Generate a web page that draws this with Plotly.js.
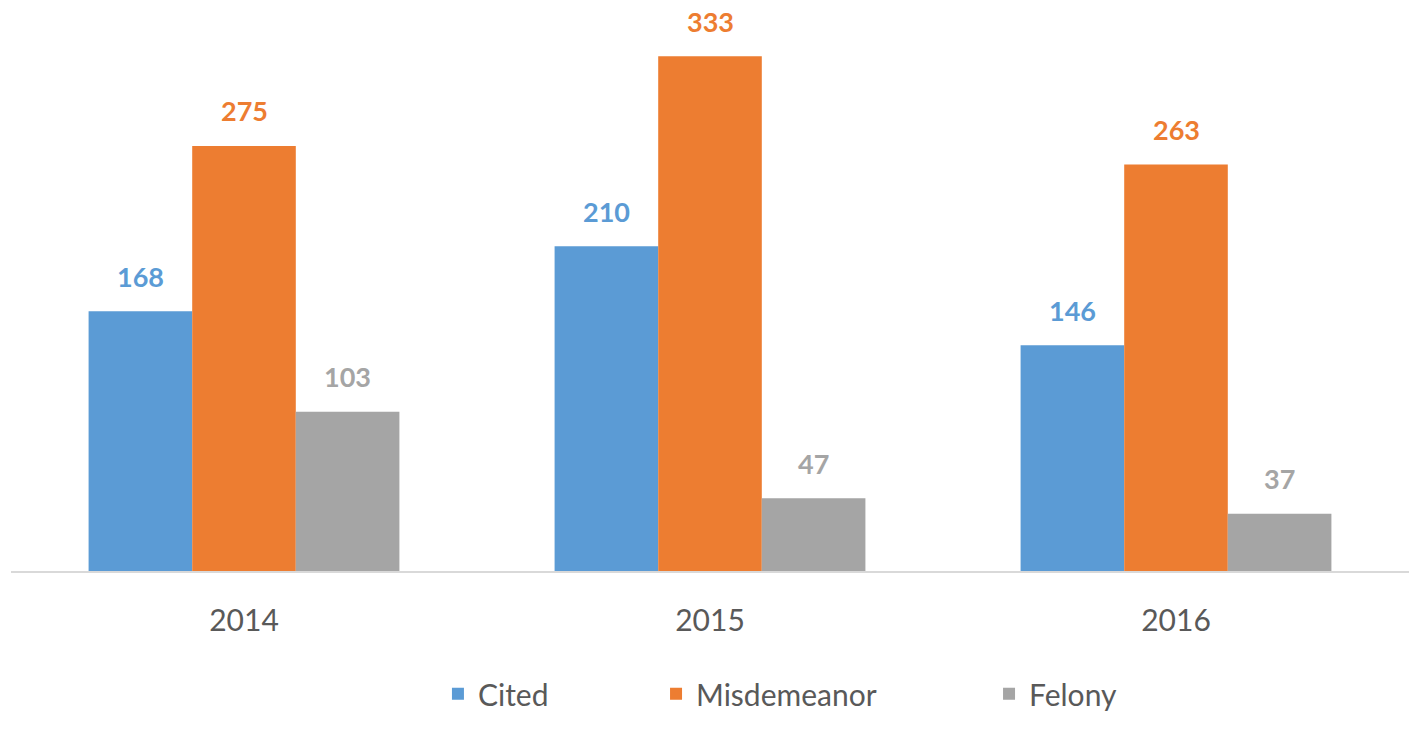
<!DOCTYPE html>
<html>
<head>
<meta charset="utf-8">
<script src="https://cdn.plot.ly/plotly-3.0.1.min.js"></script>
<style>html,body{margin:0;padding:0;background:#fff;}#chart{width:1416px;height:742px;}</style>
</head>
<body>
<div id="chart"></div>
<script>
const years = ["2014", "2015", "2016"];
const seriesNames = ["Cited", "Misdemeanor", "Felony"];
const cited = [168, 210, 146];
const misdemeanor = [275, 333, 263];
const felony = [103, 47, 37];

const colors = ["#5B9BD5", "#ED7D31", "#A5A5A5"];
const values = [cited, misdemeanor, felony];
const legendIds = ["legend", "legend2", "legend3"];
const legendX = [0.3054, 0.4614, 0.6996];
const FONT = "Lato, 'Open Sans', sans-serif";

const traces = values.map((v, k) => ({
  type: "bar",
  name: seriesNames[k],
  x: years,
  y: v,
  marker: {color: colors[k]},
  legend: legendIds[k],
  hoverinfo: "skip"
}));

const bargap = 0.333;
const barW = (1 - bargap) / 3;
const annotations = [];
values.forEach((v, k) => {
  v.forEach((val, i) => {
    annotations.push({
      x: i + (k - 1) * barW,
      y: val,
      xref: "x",
      yref: "y",
      text: "<b>" + val + "</b>",
      showarrow: false,
      yanchor: "middle",
      yshift: 35,
      font: {family: FONT, size: 27, color: colors[k]}
    });
  });
});

const layout = {
  width: 1416,
  height: 742,
  margin: {l: 11, r: 7, t: 10, b: 171},
  paper_bgcolor: "#ffffff",
  plot_bgcolor: "#ffffff",
  barmode: "group",
  bargap: bargap,
  bargroupgap: 0,
  font: {family: FONT, color: "#595959"},
  xaxis: {
    type: "category",
    showline: true,
    linecolor: "#D9D9D9",
    linewidth: 2,
    ticks: "",
    showgrid: false,
    zeroline: false,
    ticklabelstandoff: 22,
    tickfont: {family: FONT, size: 30, color: "#595959"}
  },
  yaxis: {
    range: [0, 362.9],
    visible: false,
    showgrid: false,
    zeroline: false
  },
  annotations: annotations,
  showlegend: true
};
legendIds.forEach((id, k) => {
  layout[id] = {
    orientation: "h",
    x: legendX[k],
    xanchor: "left",
    y: -0.219,
    yanchor: "middle",
    font: {family: FONT, size: 30, color: "#595959"},
    bgcolor: "rgba(0,0,0,0)"
  };
});

Plotly.newPlot("chart", traces, layout, {displayModeBar: false, staticPlot: true});
</script>
</body>
</html>
